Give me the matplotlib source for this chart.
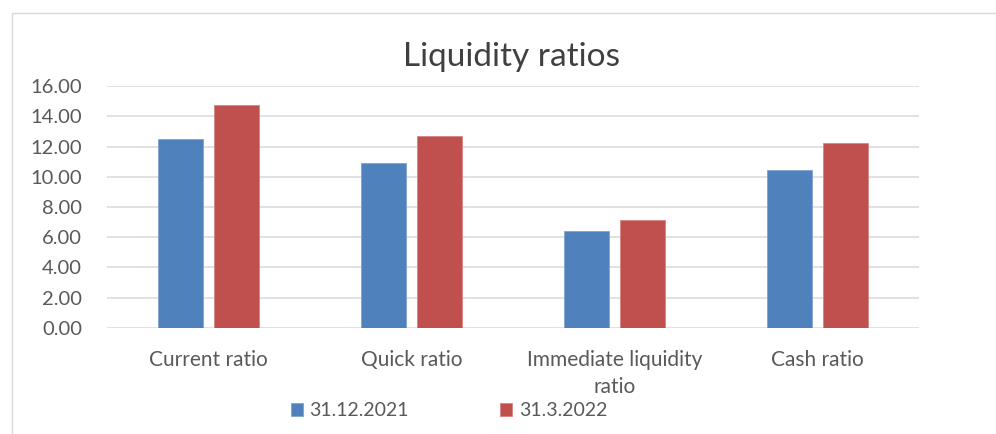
import matplotlib.pyplot as plt
import matplotlib.patches as patches
import numpy as np

categories = ["Current ratio", "Quick ratio", "Immediate liquidity\nratio", "Cash ratio"]
series_names = ["31.12.2021", "31.3.2022"]
values_2021 = [12.48, 10.89, 6.41, 10.45]
values_2022 = [14.76, 12.72, 7.14, 12.22]
y_ticks = [0, 2, 4, 6, 8, 10, 12, 14, 16]

COLORS = ["#4F81BD", "#C0504D"]
TEXT = "#595959"
GRID = "#D9D9D9"

plt.rcParams["font.family"] = ["Lato", "DejaVu Sans"]

W, H = 996, 434
fig = plt.figure(figsize=(W / 100, H / 100), dpi=100)

# outer chart frame (only left and top edges visible in the crop)
frame = patches.Rectangle((12 / W, -0.2), 2, 1.2 - 12.5 / H, transform=fig.transFigure,
                          fill=False, edgecolor=GRID, linewidth=1.0)
fig.patches.append(frame)

ax = fig.add_axes([107 / W, 1 - 327.7 / H, (919 - 107) / W, (327.7 - 86.3) / H])

x = np.arange(len(categories))
width = 0.222
offset = 0.14
ax.bar(x - offset, values_2021, width, color=COLORS[0], edgecolor="#7FA3D0",
       linewidth=0.6, label=series_names[0], zorder=3)
ax.bar(x + offset, values_2022, width, color=COLORS[1], edgecolor="#D98482",
       linewidth=0.6, label=series_names[1], zorder=3)

ax.set_xlim(-0.5, len(categories) - 0.5)
ax.set_ylim(0, 16)
ax.set_yticks(y_ticks)
ax.set_yticklabels([f"{v:.2f}" for v in y_ticks], color=TEXT, fontsize=14.5)
ax.set_xticks(x)
ax.set_xticklabels(categories, color=TEXT, fontsize=15, linespacing=1.45)
ax.tick_params(axis="y", length=0, pad=18)
ax.tick_params(axis="x", length=0, pad=16)
ax.grid(axis="y", color=GRID, linewidth=1.1, zorder=0)
for side in ["left", "right", "top", "bottom"]:
    ax.spines[side].set_visible(False)

fig.text(511 / W, 1 - 57 / H, "Liquidity ratios", ha="center", va="center",
         fontsize=24, color="#404040")

fig.legend(loc="center", bbox_to_anchor=(449 / W, 1 - 411 / H), ncol=2, frameon=False,
           fontsize=14, handlelength=0.6, handleheight=0.6, handletextpad=0.35,
           columnspacing=4.7, labelcolor=TEXT)

plt.savefig("out.png", dpi=100)
